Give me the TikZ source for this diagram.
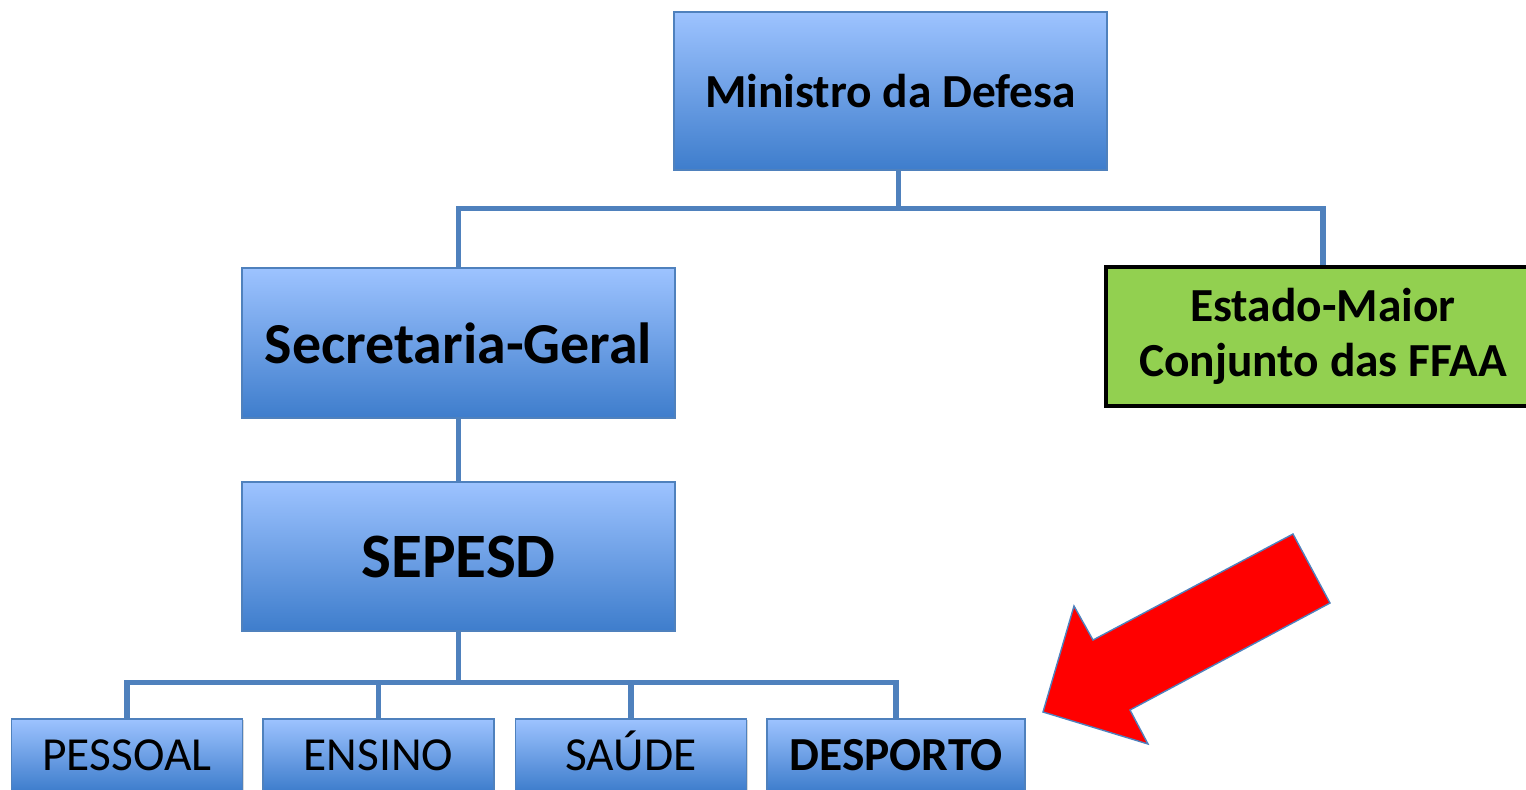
\documentclass[tikz,border=0pt]{standalone}
\usepackage{fontspec}
\setmainfont{Carlito}
\usetikzlibrary{positioning,shadows}

\definecolor{boxtop}{RGB}{157,195,255}
\definecolor{boxbot}{RGB}{62,125,204}
\definecolor{boxline}{RGB}{79,129,189}
\definecolor{emagreen}{RGB}{146,208,80}

\tikzset{
  orgbox/.style={draw=boxline, line width=0.8pt, top color=boxtop, bottom color=boxbot,
    drop shadow={opacity=0.3, shadow xshift=0.8pt, shadow yshift=-0.8pt},
    minimum width=8.66cm, inner sep=0pt, align=center},
  subbox/.style={orgbox, minimum width=4.62cm, minimum height=1.44cm,
    text height=0.62cm, text depth=0pt, font=\fontsize{27}{31}\selectfont},
  link/.style={draw=boxline, line width=3pt}
}

\begin{document}
\begin{tikzpicture}[x=0.02cm, y=-0.02cm]
\useasboundingbox (0,0) rectangle (1526,789);
\clip (0,0) rectangle (1526,789);

% top level
\node[orgbox, minimum height=3.16cm, font=\bfseries\fontsize{27}{31}\selectfont]
  (ministro) at (890.5,91) {Ministro da Defesa};
\node[orgbox, minimum height=3.0cm, font=\bfseries\fontsize{33}{38}\selectfont]
  (secgeral) at (458.5,343) {Secretaria-Geral};
\node[draw=black, line width=2pt, fill=emagreen, minimum width=8.68cm, minimum height=2.78cm,
  inner sep=0pt, align=center, font=\bfseries\fontsize{27}{31}\selectfont]
  (ema) at (1323,336.5) {Estado-Maior\\Conjunto das FFAA};
\node[orgbox, minimum height=2.98cm, font=\bfseries\fontsize{36}{41}\selectfont]
  (sepesd) at (458.5,556.5) {SEPESD};

% bottom row
\node[subbox] (pessoal) at (127,755) {PESSOAL};
\node[subbox] (ensino) at (378.5,755) {ENSINO};
\node[subbox] (saude) at (631,755) {SAÚDE};
\node[subbox, minimum width=5.16cm, font=\bfseries\fontsize{27}{31}\selectfont]
  (desporto) at (896,755) {DESPORTO};

% connectors
\draw[link] ([xshift=0.16cm]ministro.south) -- ++(0,38) coordinate (topbar) -| (secgeral.north);
\draw[link] (topbar) -| (ema.north);
\draw[link] (secgeral.south) -- (sepesd.north);
\draw[link] (sepesd.south) -- ++(0,51) coordinate (lowbar) -| (pessoal.north);
\draw[link] (lowbar) -| (ensino.north);
\draw[link] (lowbar) -| (saude.north);
\draw[link] (lowbar) -| (desporto.north);

% pointer
\filldraw[fill=red, draw=boxline, line width=0.8pt, line join=miter]
  (1293,534) -- (1330,603) -- (1130,710) -- (1148,744) -- (1043,712)
  -- (1074,606) -- (1093,640) -- cycle;
\end{tikzpicture}
\end{document}
